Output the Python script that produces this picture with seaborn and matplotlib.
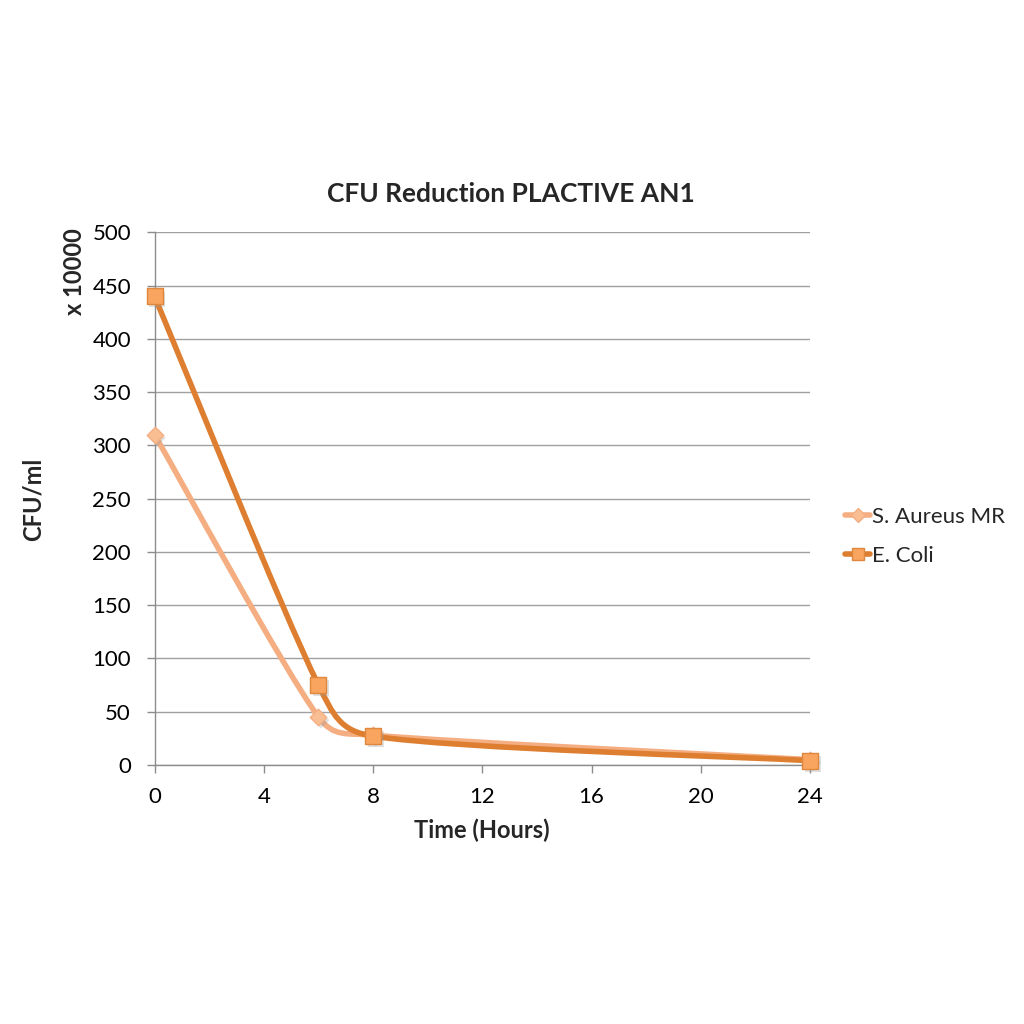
import numpy as np
import pandas as pd
import matplotlib
matplotlib.use('Agg')
import matplotlib.pyplot as plt
import seaborn as sns
from matplotlib.path import Path
from matplotlib.patches import PathPatch
from matplotlib.lines import Line2D

# data (CFU/ml x 10000)
hours = [0, 6, 8, 24]
aureus = [310, 45, 28, 5]
ecoli = [440, 75, 27, 4]
series_names = ['S. Aureus MR', 'E. Coli']
x_ticks = [0, 4, 8, 12, 16, 20, 24]
y_ticks = [0, 50, 100, 150, 200, 250, 300, 350, 400, 450, 500]

df = pd.DataFrame({'hours': hours * 2,
                   'cfu': aureus + ecoli,
                   'series': [series_names[0]] * 4 + [series_names[1]] * 4})

sns.set_theme(style='white')
plt.rcParams['font.family'] = ['Lato', 'DejaVu Sans']

line_cols = {'S. Aureus MR': '#F4AE82', 'E. Coli': '#DD7E30'}
mark_face = {'S. Aureus MR': '#F9BE92', 'E. Coli': '#F9A560'}
mark_edge = {'S. Aureus MR': '#F4AE82', 'E. Coli': '#E0873E'}
mark_shape = {'S. Aureus MR': 'D', 'E. Coli': 's'}
mark_size = {'S. Aureus MR': 70, 'E. Coli': 130}


def smooth_path(ax, xs, ys):
    # Excel style smoothed line (catmull-rom in screen space, clamped)
    tr = ax.transData
    pts = tr.transform(np.column_stack([xs, ys]).astype(float))
    n = len(pts)
    verts = [pts[0]]
    codes = [Path.MOVETO]
    for i in range(n - 1):
        p0 = pts[i - 1] if i > 0 else pts[i]
        p1, p2 = pts[i], pts[i + 1]
        p3 = pts[i + 2] if i + 2 < n else pts[i + 1]
        seg = np.hypot(*(p2 - p1))
        t1 = (p2 - p0) / 6
        t2 = (p3 - p1) / 6
        if np.hypot(*t1) > 0.45 * seg:
            t1 = t1 / np.hypot(*t1) * 0.45 * seg
        if np.hypot(*t2) > 0.45 * seg:
            t2 = t2 / np.hypot(*t2) * 0.45 * seg
        verts += [p1 + t1, p2 - t2, p2]
        codes += [Path.CURVE4] * 3
    verts = tr.inverted().transform(np.array(verts))
    return Path(verts, codes)


fig = plt.figure(figsize=(10.24, 10.24), dpi=100)
ax = fig.add_axes([0.151, 0.253, 0.640, 0.520])
ax.set_xlim(0, 24)
ax.set_ylim(0, 500)

for name in series_names:
    sub = df[df.series == name]
    ax.add_patch(PathPatch(smooth_path(ax, sub.hours.values, sub.cfu.values),
                           facecolor='none', edgecolor=line_cols[name],
                           lw=4, zorder=3, capstyle='round', clip_on=False))

for name in series_names:
    sub = df[df.series == name]
    sns.scatterplot(x=sub.hours + 0.1, y=sub.cfu - 3, ax=ax, marker=mark_shape[name],
                    s=mark_size[name], color='#9a9a9a', alpha=0.3,
                    edgecolor='none', zorder=4, legend=False, clip_on=False)
    sns.scatterplot(data=sub, x='hours', y='cfu', ax=ax, marker=mark_shape[name],
                    s=mark_size[name], color=mark_face[name],
                    edgecolor=mark_edge[name], linewidth=1, zorder=5, legend=False,
                    clip_on=False)

ax.set_xlim(0, 24)
ax.set_ylim(0, 500)
ax.set_xticks(x_ticks)
ax.set_yticks(y_ticks)
ax.tick_params(axis='both', labelsize=16, length=6, width=1, color='#8c8c8c',
               direction='out', bottom=True, left=True, labelcolor='black')
ax.tick_params(axis='x', pad=10)
ax.tick_params(axis='y', pad=11)
ax.yaxis.grid(True, color='#a0a0a0', lw=1)
ax.xaxis.grid(False)
for side in ['top', 'right']:
    ax.spines[side].set_visible(False)
for side in ['left', 'bottom']:
    ax.spines[side].set_color('#8c8c8c')
    ax.spines[side].set_linewidth(1)

ax.set_xlabel('Time (Hours)', fontsize=17, fontweight='bold', labelpad=8)
ax.set_ylabel('')
ax.set_title('CFU Reduction PLACTIVE AN1', fontsize=19, fontweight='bold', pad=22, x=0.543)
fig.text(0.032, 0.512, 'CFU/ml', rotation=90, fontsize=17, fontweight='bold',
         ha='center', va='center')
fig.text(0.073, 0.735, 'x 10000', rotation=90, fontsize=17, fontweight='bold',
         ha='center', va='center')

handles = [Line2D([0], [0], color=line_cols[n], lw=4, marker=mark_shape[n],
                  markersize=9 if n == 'E. Coli' else 7, markerfacecolor=mark_face[n],
                  markeredgecolor=mark_edge[n]) for n in series_names]
fig.legend(handles, series_names, loc='center left', bbox_to_anchor=(0.806, 0.476),
           frameon=False, fontsize=16, handlelength=1.1, handletextpad=0.1,
           labelspacing=0.85)

fig.savefig('out.png', dpi=100, facecolor='white')
